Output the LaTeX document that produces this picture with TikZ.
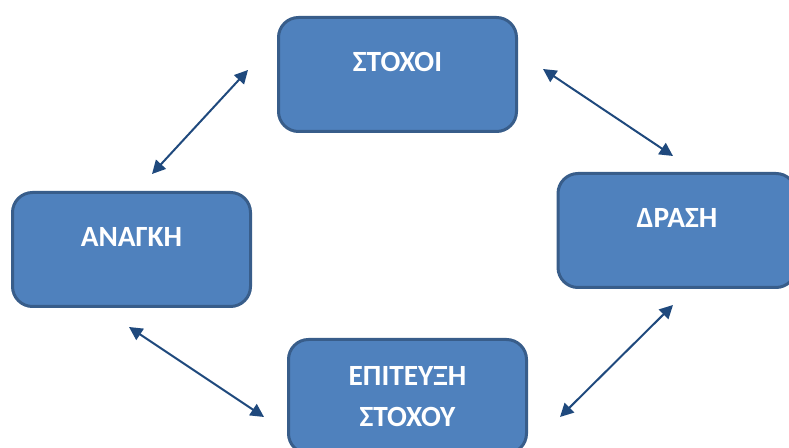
\documentclass[tikz,border=0pt]{standalone}
\usepackage{fontspec}
\setmainfont{Carlito}
\usepackage{xcolor}
\usetikzlibrary{arrows.meta,positioning}
\definecolor{boxFill}{RGB}{79,129,189}
\definecolor{boxEdge}{RGB}{56,93,138}
\definecolor{linkBlue}{RGB}{31,73,125}

\tikzset{
  stage/.style={draw=boxEdge, fill=boxFill, line width=2.25pt, rounded corners=15pt,
    minimum width=178.5pt, minimum height=85.5pt, text=white, align=center,
    font=\fontsize{22}{31}\selectfont\bfseries},
  upper/.style={text height=15pt, text depth=20.1pt},
  link/.style={linkBlue, line width=1.5pt,
    {Triangle[length=10pt,width=10pt]}-{Triangle[length=10pt,width=10pt]}}
}

\begin{document}
\begin{tikzpicture}[x=0.75pt,y=-0.75pt]
\useasboundingbox (0,0) rectangle (789,448);

% stages of the cycle
\node[stage, upper] (goals)  at (397.5,74.5)  {ΣΤΟΧΟΙ};
\node[stage, upper] (action) at (677,230.5)   {ΔΡΑΣΗ};
\node[stage, upper] (need)   at (131.5,249.5) {ΑΝΑΓΚΗ};
\node[stage]        (reach)  at (407.5,396.5) {ΕΠΙΤΕΥΞΗ\\ΣΤΟΧΟΥ};

% arrow ends
\coordinate (gn1) at (248,70);
\coordinate (gn2) at (152,174);
\coordinate (ga1) at (543,69);
\coordinate (ga2) at (673,156);
\coordinate (nr1) at (129,327);
\coordinate (nr2) at (264,417);
\coordinate (ar1) at (673,305);
\coordinate (ar2) at (560,417);

\draw[link] (gn1) -- (gn2);
\draw[link] (ga1) -- (ga2);
\draw[link] (nr1) -- (nr2);
\draw[link] (ar1) -- (ar2);
\end{tikzpicture}
\end{document}
